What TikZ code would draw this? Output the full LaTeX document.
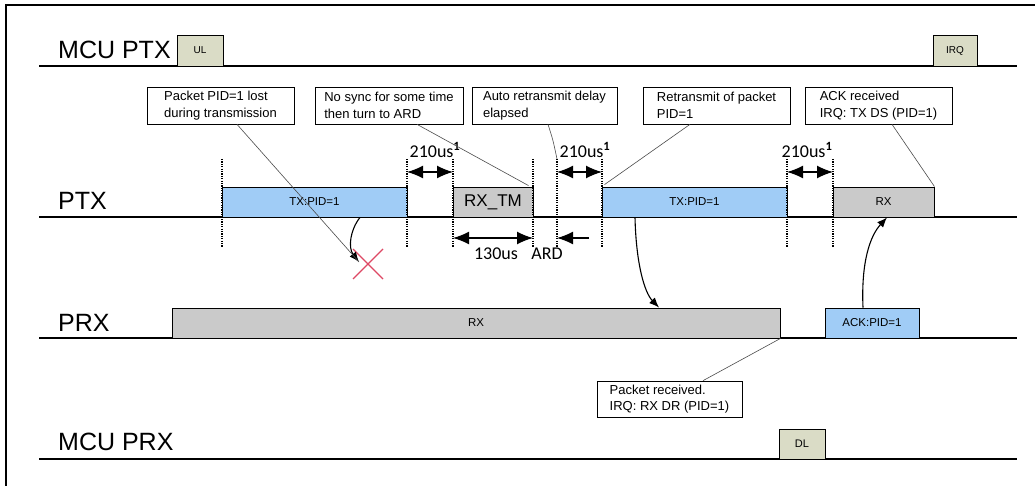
\documentclass[tikz,border=0pt]{standalone}
\usepackage{fontspec}
\setmainfont{Liberation Sans}
\newfontfamily\calib{Carlito}
\usetikzlibrary{arrows.meta,calc}
\definecolor{pktblue}{RGB}{160,204,246}
\definecolor{pktgray}{RGB}{202,202,202}
\definecolor{mcuolive}{RGB}{218,220,198}
\definecolor{xred}{RGB}{222,72,100}
\tikzset{
  lane/.style={line width=1.3pt},
  lanelabel/.style={anchor=base west,inner sep=0pt,font=\fontsize{25}{25}\selectfont},
  pkt/.style={draw,line width=0.9pt,inner sep=0pt,font=\fontsize{11.5}{12}\selectfont},
  bluepkt/.style={pkt,fill=pktblue},
  graypkt/.style={pkt,fill=pktgray},
  mcubox/.style={draw,line width=0.9pt,fill=mcuolive,inner sep=0pt,font=\fontsize{10}{10}\selectfont},
  note/.style={draw,line width=0.7pt,inner xsep=0pt,inner ysep=0pt,align=left,
    font=\fontsize{13}{16.5}\selectfont},
  leader/.style={line width=0.6pt,draw=black!70},
  tick/.style={line width=2.4pt,dash pattern=on 1.2pt off 1.2pt},
  span/.style={line width=1.4pt,{Latex[length=16pt,width=13pt]}-{Latex[length=16pt,width=13pt]}},
  onearrow/.style={line width=1.4pt,-{Latex[length=16pt,width=13pt]}},
  flow/.style={line width=1.1pt,-{Latex[length=10pt,width=8pt]}},
  dur/.style={inner sep=0pt,font=\calib\fontsize{18}{18}\selectfont},
}
\begin{document}
\begin{tikzpicture}[x=1pt,y=-1pt]
\useasboundingbox (0,0) rectangle (1035,486);
\fill[white] (0,0) rectangle (1035,486);
% frame
\draw[line width=1.5pt] (6,486) -- (6,5) -- (1035,5);

% lanes
\draw[lane] (39,66) -- (1017,66);
\draw[lane] (39,217) -- (1017,217);
\draw[lane] (39,338) -- (1017,338);
\draw[lane] (39,459) -- (1017,459);
\node[lanelabel] (lmcuptx) at (58,59) {MCU PTX};
\node[lanelabel] (lptx) at (58,210) {PTX};
\node[lanelabel] (lprx) at (58,331) {PRX};
\node[lanelabel] (lmcuprx) at (58,450) {MCU PRX};

% MCU boxes
\node[mcubox,minimum width=46pt,minimum height=31pt] (ul) at (200,50.5) {UL};
\node[mcubox,minimum width=44pt,minimum height=31pt] (irq) at (955,50.5) {IRQ};
\node[mcubox,minimum width=46pt,minimum height=30pt,font=\fontsize{11}{11}\selectfont] (dl) at (802,444) {DL};

% dotted timing marks
\foreach \x/\n in {222/1,407/2,453/3,533/4,557/5,602/6,787/7,833/8}{
  \coordinate (top\n) at (\x,159);
  \coordinate (bot\n) at (\x,247);
}

% packets on PTX
\node[bluepkt,minimum width=185pt,minimum height=30pt] (tx1) at (314.5,202) {TX:PID=1};
\node[graypkt,minimum width=80pt,minimum height=30pt,font=\fontsize{17}{17}\selectfont] (rxtm) at (493,202) {RX\_TM};
\node[bluepkt,minimum width=185pt,minimum height=30pt] (tx2) at (694.5,202) {TX:PID=1};
\node[graypkt,minimum width=101pt,minimum height=30pt] (rxptx) at (883.5,202) {RX};
% packets on PRX
\node[graypkt,minimum width=608pt,minimum height=30pt] (rxprx) at (476,323) {RX};
\node[bluepkt,minimum width=94pt,minimum height=30pt] (ack) at (872,323) {ACK:PID=1};

\foreach \n in {1,...,8}{
  \draw[tick] (top\n) -- (bot\n);
}

% durations
\draw[span] (407,172) -- (453,172);
\draw[span] (557,172) -- (602,172);
\draw[span] (787,172) -- (833,172);
\node[dur] (d1) at (435,150) {210us\textsuperscript{\textbf{1}}};
\node[dur] (d2) at (585,150) {210us\textsuperscript{\textbf{1}}};
\node[dur] (d3) at (807,150) {210us\textsuperscript{\textbf{1}}};
\draw[span] (453,238) -- (533,238);
\coordinate (ardstart) at (589,238);
\coordinate (ardend) at (557,238);
\draw[onearrow] (ardstart) -- (ardend);
\node[dur] (d130) at (496,254) {130us};
\node[dur] (dard) at (547,254) {ARD};

% lost packet
\coordinate (xc) at (368,264);
\draw[xred,line width=1.3pt] ($(xc)+(-15,-15)$) -- ($(xc)+(15,15)$);
\draw[xred,line width=1.3pt] ($(xc)+(-15,15)$) -- ($(xc)+(15,-15)$);
\coordinate (lostend) at (359,262);
\draw[flow] (tx1.south -| 360,0) .. controls (350,230) and (348,248) .. (lostend);

% transfers
\draw[flow] (tx2.south -| 635,0) .. controls (636,262) and (644,292) .. (rxprx.north -| 659,0);
\draw[flow] (ack.north -| 863,0) .. controls (861,262) and (870,236) .. (rxptx.south -| 887,0);

% notes (text block centred in a fixed box)
\node[note,minimum width=147pt,minimum height=37pt] (n1) at (220.5,105.5) {Packet PID=1 lost\\during transmission};
\node[note,minimum width=148pt,minimum height=37pt] (n2) at (389,105.5) {No sync for some time\\then turn to ARD};
\node[note,minimum width=145pt,minimum height=37pt] (n3) at (544.5,105.5) {Auto retransmit delay\\elapsed};
\node[note,minimum width=147pt,minimum height=37pt] (n4) at (716.5,105.5) {Retransmit of packet\\PID=1};
\node[note,minimum width=147pt,minimum height=37pt] (n5) at (878.5,105.5) {ACK received\\IRQ: TX DS (PID=1)};
\node[note,minimum width=145pt,minimum height=36pt] (n6) at (669.5,399) {Packet received.\\IRQ: RX DR (PID=1)};

% leaders
\draw[leader] (n1.south -| 237,0) -- (lostend);
\draw[leader] (n2.south -| 417,0) -- ($(rxtm.north east)+(-5,-1)$);
\draw[leader] (n3.south -| 548,0) .. controls (553,140) .. (top5);
\draw[leader] (n4.south -| 690,0) -- ($(tx2.north west)+(3,-2)$);
\draw[leader] (n5.south -| 892,0) -- (rxptx.north east);
\draw[leader] (n6.north -| 703,0) -- (rxprx.south east);
\end{tikzpicture}
\end{document}
